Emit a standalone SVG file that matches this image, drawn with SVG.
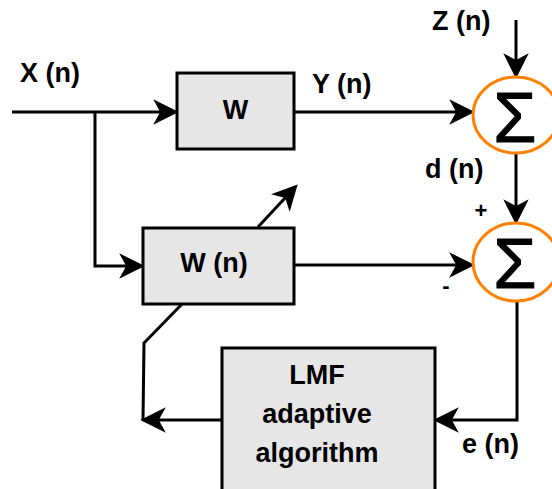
<svg xmlns="http://www.w3.org/2000/svg" width="552" height="489" viewBox="0 0 552 489">
  <style>
    .box { fill: #e6e6e6; stroke: #000; stroke-width: 3; }
    .sum { fill: #fff; stroke: #ff8000; stroke-width: 3; }
    .wire { fill: none; stroke: #000; stroke-width: 3; }
    .lbl { font-family: "Liberation Sans", Arial, sans-serif; font-weight: bold; font-size: 27px; fill: #000; }
    .mid { text-anchor: middle; }
    .sigma { font-family: "Liberation Sans", Arial, sans-serif; font-size: 70px; fill: #000; stroke: #000; stroke-width: 1; text-anchor: middle; }
  </style>
  <defs>
    <marker id="arrow" viewBox="-8 -13 26 26" markerWidth="26" markerHeight="26" refX="0" refY="0" orient="auto" markerUnits="userSpaceOnUse">
      <path d="M16,0 L-6,-11 L0,0 L-6,11 Z" fill="#000" stroke="#000" stroke-width="1.5" stroke-linejoin="miter"/>
    </marker>
  </defs>
  <rect width="552" height="489" fill="#fff"/>

  <g id="connectors">
    <path class="wire" d="M12,112 H161" marker-end="url(#arrow)"/>
    <path class="wire" d="M95,112 V266 H127" marker-end="url(#arrow)"/>
    <path class="wire" d="M294,112 H457" marker-end="url(#arrow)"/>
    <path class="wire" d="M516,20 V61" marker-end="url(#arrow)"/>
    <path class="wire" d="M516,153 V207" marker-end="url(#arrow)"/>
    <path class="wire" d="M294,265 H457" marker-end="url(#arrow)"/>
    <path class="wire" d="M517,301 V420 H451" marker-end="url(#arrow)"/>
    <path class="wire" d="M222,420 H158" marker-end="url(#arrow)"/>
    <path class="wire" d="M182,304 L144,343 L143,420"/>
    <path class="wire" d="M258,227 L285.7,197.3" marker-end="url(#arrow)"/>
  </g>

  <g id="w">
    <rect class="box" x="177" y="73" width="117" height="76"/>
    <text class="lbl mid" x="235.5" y="119">W</text>
  </g>

  <g id="wn">
    <rect class="box" x="143" y="228" width="151" height="76"/>
    <text class="lbl mid" x="214" y="272">W (n)</text>
  </g>

  <g id="lmf">
    <rect class="box" x="222" y="348" width="213" height="150"/>
    <text class="lbl mid" x="317" y="384">LMF</text>
    <text class="lbl mid" x="317" y="423">adaptive</text>
    <text class="lbl mid" x="317" y="462">algorithm</text>
  </g>

  <g id="sum1">
    <ellipse class="sum" cx="516" cy="115" rx="43" ry="38"/>
    <text class="sigma" x="515" y="142">Σ</text>
  </g>

  <g id="sum2">
    <ellipse class="sum" cx="516" cy="262" rx="43" ry="39"/>
    <text class="sigma" x="515" y="288">Σ</text>
  </g>

  <g id="labels">
    <text class="lbl" x="20" y="82">X (n)</text>
    <text class="lbl" x="312" y="93">Y (n)</text>
    <text class="lbl" x="432" y="30">Z (n)</text>
    <text class="lbl" x="425" y="178">d (n)</text>
    <text class="lbl mid" x="481" y="218" style="font-size:22px">+</text>
    <text class="lbl mid" x="446" y="293" style="font-size:22px">-</text>
    <text class="lbl" x="462" y="453">e (n)</text>
  </g>
</svg>
